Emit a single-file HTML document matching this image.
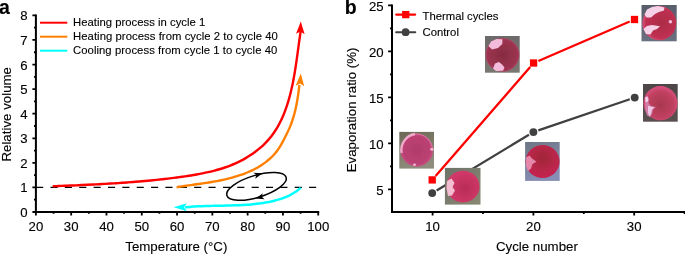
<!DOCTYPE html><html><head><meta charset="utf-8"><style>
html,body{margin:0;padding:0;background:#fff;width:685px;height:254px;overflow:hidden}
svg{display:block;will-change:transform}
text{font-family:"Liberation Sans", sans-serif;fill:#000;stroke:#000;stroke-width:0.12px}
</style></head><body>
<svg width="685" height="254" viewBox="0 0 685 254">
<defs>
<clipPath id="dishclip"><rect x="0" y="0" width="685" height="254"/></clipPath>
</defs>
<text x="-1.1" y="13.6" style="font-weight:bold;font-size:19.5px">a</text>
<g stroke="#000" stroke-width="2" fill="none">
<path d="M35.9,14.40 V212 H319.22"/>
</g>
<path d="M32.4,212.00H35.9 M32.4,187.43H35.9 M32.4,162.85H35.9 M32.4,138.28H35.9 M32.4,113.70H35.9 M32.4,89.12H35.9 M32.4,64.55H35.9 M32.4,39.97H35.9 M32.4,15.40H35.9 M34,199.71H35.9 M34,175.14H35.9 M34,150.56H35.9 M34,125.99H35.9 M34,101.41H35.9 M34,76.84H35.9 M34,52.26H35.9 M34,27.69H35.9 M35.90,212V215.4 M71.19,212V215.4 M106.48,212V215.4 M141.77,212V215.4 M177.06,212V215.4 M212.35,212V215.4 M247.64,212V215.4 M282.93,212V215.4 M318.22,212V215.4 M53.55,212V213.8 M88.84,212V213.8 M124.12,212V213.8 M159.41,212V213.8 M194.71,212V213.8 M230.00,212V213.8 M265.28,212V213.8 M300.57,212V213.8" stroke="#000" stroke-width="1.8" fill="none"/>
<text transform="translate(27.6,217.00) scale(1.10,1)" text-anchor="end" style="font-size:12px">0</text>
<text transform="translate(27.6,192.43) scale(1.10,1)" text-anchor="end" style="font-size:12px">1</text>
<text transform="translate(27.6,167.85) scale(1.10,1)" text-anchor="end" style="font-size:12px">2</text>
<text transform="translate(27.6,143.28) scale(1.10,1)" text-anchor="end" style="font-size:12px">3</text>
<text transform="translate(27.6,118.70) scale(1.10,1)" text-anchor="end" style="font-size:12px">4</text>
<text transform="translate(27.6,94.12) scale(1.10,1)" text-anchor="end" style="font-size:12px">5</text>
<text transform="translate(27.6,69.55) scale(1.10,1)" text-anchor="end" style="font-size:12px">6</text>
<text transform="translate(27.6,44.97) scale(1.10,1)" text-anchor="end" style="font-size:12px">7</text>
<text transform="translate(27.6,20.40) scale(1.10,1)" text-anchor="end" style="font-size:12px">8</text>
<text transform="translate(35.90,231) scale(1.10,1)" text-anchor="middle" style="font-size:12px">20</text>
<text transform="translate(71.19,231) scale(1.10,1)" text-anchor="middle" style="font-size:12px">30</text>
<text transform="translate(106.48,231) scale(1.10,1)" text-anchor="middle" style="font-size:12px">40</text>
<text transform="translate(141.77,231) scale(1.10,1)" text-anchor="middle" style="font-size:12px">50</text>
<text transform="translate(177.06,231) scale(1.10,1)" text-anchor="middle" style="font-size:12px">60</text>
<text transform="translate(212.35,231) scale(1.10,1)" text-anchor="middle" style="font-size:12px">70</text>
<text transform="translate(247.64,231) scale(1.10,1)" text-anchor="middle" style="font-size:12px">80</text>
<text transform="translate(282.93,231) scale(1.10,1)" text-anchor="middle" style="font-size:12px">90</text>
<text transform="translate(318.22,231) scale(1.10,1)" text-anchor="middle" style="font-size:12px">100</text>
<text x="176.3" y="250.6" text-anchor="middle" style="font-size:13.3px">Temperature (°C)</text>
<text transform="translate(11.3,114.3) rotate(-90)" x="0" y="0" text-anchor="middle" style="font-size:13.3px">Relative volume</text>
<path d="M36.13,187.3H316.4" stroke="#000" stroke-width="1.3" stroke-dasharray="7.1 7.267" fill="none"/>
<path d="M40,22.7H67.3" stroke="#ff0000" stroke-width="2" fill="none"/>
<path d="M40,36.7H67.3" stroke="#ff8000" stroke-width="2" fill="none"/>
<path d="M40,50.7H67.3" stroke="#00ffff" stroke-width="2" fill="none"/>
<text x="73" y="26.0" textLength="132.3" lengthAdjust="spacing" style="font-size:11.3px">Heating process in cycle 1</text>
<text x="73" y="40.0" textLength="204.9" lengthAdjust="spacing" style="font-size:11.3px">Heating process from cycle 2 to cycle 40</text>
<text x="73" y="54.0" textLength="204.3" lengthAdjust="spacing" style="font-size:11.3px">Cooling process from cycle 1 to cycle 40</text>
<path d="M52.71,186.27 C53.69,186.23 56.61,186.12 58.56,186.04 C60.50,185.96 62.45,185.89 64.39,185.81 C66.33,185.73 68.26,185.65 70.20,185.57 C72.13,185.49 74.07,185.41 76.00,185.33 C77.93,185.25 79.85,185.16 81.78,185.07 C83.71,184.99 85.63,184.90 87.55,184.81 C89.48,184.72 91.40,184.62 93.32,184.52 C95.24,184.43 97.15,184.33 99.07,184.23 C100.99,184.12 102.90,184.02 104.82,183.91 C106.73,183.80 108.64,183.69 110.56,183.57 C112.47,183.45 114.38,183.33 116.29,183.21 C118.20,183.08 120.11,182.96 122.02,182.82 C123.93,182.69 125.84,182.55 127.75,182.41 C129.66,182.27 131.57,182.12 133.48,181.97 C135.39,181.81 137.30,181.66 139.21,181.49 C141.12,181.33 143.03,181.16 144.94,180.99 C146.85,180.81 148.76,180.63 150.67,180.44 C152.58,180.26 154.49,180.06 156.41,179.86 C158.32,179.66 160.23,179.46 162.15,179.24 C164.07,179.03 165.98,178.81 167.90,178.58 C169.82,178.36 171.74,178.12 173.66,177.88 C175.58,177.64 177.51,177.39 179.43,177.13 C181.36,176.87 183.28,176.60 185.21,176.32 C187.13,176.04 189.06,175.75 190.98,175.44 C192.90,175.13 194.82,174.81 196.73,174.47 C198.65,174.13 200.56,173.77 202.46,173.38 C204.36,173.00 206.25,172.60 208.14,172.16 C210.03,171.73 211.90,171.27 213.77,170.79 C215.63,170.30 217.49,169.78 219.33,169.23 C221.17,168.68 223.00,168.10 224.81,167.49 C226.62,166.87 228.42,166.22 230.20,165.52 C231.98,164.83 233.74,164.10 235.49,163.32 C237.23,162.54 238.95,161.73 240.66,160.86 C242.36,160.00 244.04,159.09 245.70,158.13 C247.35,157.17 248.99,156.16 250.59,155.10 C252.19,154.04 253.77,152.93 255.31,151.77 C256.85,150.62 258.36,149.42 259.82,148.17 C261.28,146.92 262.71,145.62 264.09,144.28 C265.46,142.94 266.80,141.55 268.07,140.12 C269.35,138.69 270.58,137.21 271.74,135.69 C272.91,134.17 274.02,132.61 275.07,131.01 C276.12,129.41 277.12,127.77 278.06,126.10 C279.00,124.43 279.89,122.72 280.74,120.99 C281.58,119.26 282.38,117.50 283.13,115.72 C283.89,113.95 284.59,112.14 285.27,110.33 C285.94,108.52 286.57,106.69 287.17,104.86 C287.77,103.02 288.33,101.18 288.86,99.32 C289.40,97.47 289.90,95.61 290.37,93.74 C290.85,91.87 291.30,89.99 291.72,88.11 C292.14,86.22 292.54,84.33 292.92,82.44 C293.30,80.55 293.66,78.65 294.00,76.75 C294.34,74.84 294.66,72.94 294.98,71.03 C295.29,69.12 295.58,67.21 295.87,65.31 C296.16,63.40 296.43,61.48 296.70,59.57 C296.97,57.66 297.24,55.75 297.50,53.85 C297.76,51.94 298.01,50.03 298.27,48.13 C298.53,46.22 298.79,44.32 299.05,42.43 C299.31,40.53 299.58,38.64 299.85,36.75 C300.13,34.87 300.55,32.05 300.70,31.11" stroke="#ff0000" stroke-width="2.4" fill="none"/>
<path d="M300.80,21.40 L304.66,34.14 L300.45,31.39 L296.06,33.84 Z" fill="#ff0000"/>
<path d="M176.63,187.20 C177.29,187.10 179.25,186.78 180.57,186.58 C181.89,186.37 183.22,186.18 184.55,185.98 C185.88,185.79 187.22,185.60 188.56,185.41 C189.90,185.22 191.25,185.03 192.60,184.84 C193.95,184.65 195.30,184.47 196.66,184.28 C198.01,184.09 199.37,183.90 200.73,183.70 C202.08,183.50 203.45,183.30 204.80,183.10 C206.16,182.89 207.53,182.69 208.88,182.47 C210.24,182.25 211.60,182.03 212.96,181.79 C214.32,181.56 215.67,181.32 217.03,181.06 C218.38,180.81 219.73,180.54 221.07,180.27 C222.42,179.99 223.76,179.70 225.10,179.40 C226.44,179.09 227.77,178.78 229.10,178.44 C230.42,178.11 231.74,177.76 233.06,177.39 C234.37,177.02 235.68,176.64 236.98,176.23 C238.28,175.82 239.57,175.40 240.85,174.95 C242.14,174.51 243.41,174.04 244.67,173.55 C245.94,173.06 247.19,172.54 248.44,172.00 C249.68,171.46 250.91,170.90 252.13,170.31 C253.35,169.72 254.56,169.10 255.76,168.46 C256.95,167.81 258.14,167.14 259.30,166.43 C260.47,165.73 261.62,164.99 262.75,164.23 C263.87,163.47 264.98,162.67 266.06,161.84 C267.14,161.02 268.20,160.16 269.22,159.27 C270.24,158.38 271.24,157.45 272.20,156.49 C273.16,155.54 274.09,154.55 274.97,153.52 C275.86,152.49 276.71,151.43 277.51,150.33 C278.31,149.23 279.07,148.09 279.79,146.93 C280.52,145.76 281.19,144.56 281.85,143.35 C282.52,142.15 283.16,140.92 283.80,139.70 C284.44,138.48 285.07,137.26 285.69,136.03 C286.31,134.81 286.92,133.59 287.51,132.35 C288.10,131.12 288.67,129.89 289.22,128.64 C289.76,127.39 290.27,126.13 290.76,124.86 C291.25,123.60 291.72,122.32 292.16,121.03 C292.59,119.75 293.01,118.45 293.40,117.15 C293.79,115.85 294.16,114.54 294.50,113.23 C294.85,111.91 295.17,110.59 295.48,109.26 C295.79,107.93 296.08,106.60 296.35,105.26 C296.62,103.93 296.87,102.58 297.11,101.24 C297.35,99.89 297.57,98.54 297.78,97.19 C297.99,95.84 298.19,94.49 298.37,93.13 C298.56,91.78 298.73,90.42 298.90,89.06 C299.06,87.70 299.29,85.67 299.36,84.99" stroke="#ff8000" stroke-width="2.4" fill="none"/>
<path d="M300.80,73.40 L304.21,86.27 L300.10,83.38 L295.63,85.67 Z" fill="#ff8000"/>
<path d="M300.73,187.81 C300.19,188.24 298.57,189.61 297.45,190.44 C296.33,191.26 295.19,192.03 294.03,192.76 C292.87,193.49 291.68,194.16 290.47,194.79 C289.27,195.43 288.04,196.02 286.80,196.57 C285.56,197.12 284.30,197.62 283.03,198.10 C281.76,198.57 280.47,199.01 279.18,199.41 C277.88,199.82 276.57,200.19 275.25,200.53 C273.93,200.88 272.60,201.19 271.26,201.49 C269.92,201.78 268.58,202.04 267.23,202.29 C265.88,202.54 264.53,202.76 263.17,202.97 C261.81,203.18 260.45,203.37 259.09,203.55 C257.73,203.72 256.37,203.88 255.00,204.03 C253.64,204.17 252.27,204.31 250.90,204.43 C249.53,204.55 248.16,204.65 246.78,204.75 C245.41,204.85 244.03,204.93 242.66,205.01 C241.28,205.09 239.90,205.15 238.53,205.21 C237.15,205.27 235.77,205.33 234.39,205.37 C233.01,205.42 231.63,205.46 230.25,205.50 C228.87,205.53 227.49,205.56 226.11,205.59 C224.73,205.62 223.35,205.65 221.97,205.68 C220.59,205.70 219.21,205.72 217.84,205.75 C216.46,205.78 215.08,205.80 213.70,205.83 C212.33,205.86 210.95,205.89 209.58,205.92 C208.21,205.95 206.83,205.99 205.46,206.03 C204.09,206.08 202.72,206.12 201.36,206.18 C199.99,206.24 198.63,206.30 197.27,206.37 C195.90,206.44 194.55,206.52 193.19,206.61 C191.83,206.70 190.48,206.80 189.13,206.91 C187.78,207.02 185.76,207.22 185.09,207.28" stroke="#00ffff" stroke-width="2.5" fill="none"/>
<path d="M173.70,207.30 L186.90,203.30 L184.00,207.30 L186.90,211.30 Z" fill="#00ffff"/>
<ellipse cx="256.50" cy="186.40" rx="31.00" ry="11.00" transform="rotate(-17.00 256.50 186.40)" stroke="#000" stroke-width="1.5" fill="none"/>
<path d="M262.60,173.20 L255.17,178.68 L256.38,175.08 L253.38,172.75 Z" fill="#000"/>
<path d="M255.90,198.60 L262.73,193.22 L261.73,196.82 L264.57,199.24 Z" fill="#000"/>
<text x="344.8" y="13.6" style="font-weight:bold;font-size:19.5px">b</text>
<path d="M392,4.40 V212 H685" stroke="#000" stroke-width="2" fill="none"/>
<path d="M388.1,189.40H392 M388.1,143.40H392 M388.1,97.40H392 M388.1,51.40H392 M388.1,5.40H392 M390,166.40H392 M390,120.40H392 M390,74.40H392 M390,28.40H392 M432.60,212V215.4 M533.40,212V215.4 M634.20,212V215.4 M483.00,212V214 M583.80,212V214 M684.60,212V214" stroke="#000" stroke-width="1.8" fill="none"/>
<text transform="translate(383.7,194.50) scale(1.10,1)" text-anchor="end" style="font-size:12px">5</text>
<text transform="translate(383.7,148.50) scale(1.10,1)" text-anchor="end" style="font-size:12px">10</text>
<text transform="translate(383.7,102.50) scale(1.10,1)" text-anchor="end" style="font-size:12px">15</text>
<text transform="translate(383.7,56.50) scale(1.10,1)" text-anchor="end" style="font-size:12px">20</text>
<text transform="translate(383.7,10.50) scale(1.10,1)" text-anchor="end" style="font-size:12px">25</text>
<text transform="translate(432.60,231) scale(1.10,1)" text-anchor="middle" style="font-size:12px">10</text>
<text transform="translate(533.40,231) scale(1.10,1)" text-anchor="middle" style="font-size:12px">20</text>
<text transform="translate(634.20,231) scale(1.10,1)" text-anchor="middle" style="font-size:12px">30</text>
<text x="536.9" y="250.6" text-anchor="middle" style="font-size:13.3px">Cycle number</text>
<text transform="translate(356.4,109.9) rotate(-90)" x="0" y="0" text-anchor="middle" style="font-size:13.3px">Evaporation ratio (%)</text>
<path d="M396.2,14.6H415.2" stroke="#ff0000" stroke-width="2.1" stroke-linecap="round" fill="none"/>
<rect x="402.1" y="10.95" width="7.3" height="7.3" fill="#ff0000"/>
<path d="M396.2,32.2H415.2" stroke="#404040" stroke-width="2.1" stroke-linecap="round" fill="none"/>
<circle cx="405.6" cy="32.2" r="3.9" fill="#404040"/>
<text x="422.5" y="20" style="font-size:11.3px">Thermal cycles</text>
<text x="422.5" y="36.3" style="font-size:11.3px">Control</text>
<path d="M435.61,175.97 L530.19,66.93 M538.38,60.94 L629.72,21.56 " stroke="#ff0000" stroke-width="2.3" fill="none"/>
<path d="M436.65,190.42 L528.95,134.78 M538.32,130.42 L629.78,99.28 " stroke="#404040" stroke-width="2.3" fill="none"/>
<defs><linearGradient id="bgA" x1="0" y1="0" x2="0.3" y2="1"><stop offset="0" stop-color="#6c6854"/><stop offset="1" stop-color="#8e8c7c"/></linearGradient><linearGradient id="bgB" x1="0" y1="0" x2="1" y2="1"><stop offset="0" stop-color="#6c726a"/><stop offset="1" stop-color="#8a8872"/></linearGradient><linearGradient id="bgC" x1="0" y1="0" x2="0" y2="1"><stop offset="0" stop-color="#6c6a6a"/><stop offset="1" stop-color="#7a7870"/></linearGradient><linearGradient id="bgD" x1="0" y1="0" x2="0.4" y2="1"><stop offset="0" stop-color="#6e7684"/><stop offset="1" stop-color="#868eb6"/></linearGradient><linearGradient id="bgE" x1="0" y1="0" x2="0" y2="1"><stop offset="0" stop-color="#585e6a"/><stop offset="1" stop-color="#6a7080"/></linearGradient><linearGradient id="bgF" x1="0" y1="0" x2="0" y2="1"><stop offset="0" stop-color="#4e4646"/><stop offset="1" stop-color="#5a5050"/></linearGradient><radialGradient id="dA" cx="0.5" cy="0.5" r="0.5"><stop offset="0" stop-color="#b03c68"/><stop offset="0.85" stop-color="#bc4274"/><stop offset="1" stop-color="#c85284"/></radialGradient><radialGradient id="dB" cx="0.55" cy="0.55" r="0.5"><stop offset="0" stop-color="#b82c58"/><stop offset="1" stop-color="#d03868"/></radialGradient><radialGradient id="dC" cx="0.5" cy="0.5" r="0.5"><stop offset="0" stop-color="#862c40"/><stop offset="0.9" stop-color="#9c3450"/><stop offset="1" stop-color="#b04868"/></radialGradient><radialGradient id="dD" cx="0.5" cy="0.4" r="0.55"><stop offset="0" stop-color="#a02838"/><stop offset="1" stop-color="#c42450"/></radialGradient><radialGradient id="dE" cx="0.55" cy="0.5" r="0.5"><stop offset="0" stop-color="#ac2c48"/><stop offset="0.9" stop-color="#c03052"/><stop offset="1" stop-color="#d04870"/></radialGradient><radialGradient id="dF" cx="0.5" cy="0.55" r="0.55"><stop offset="0" stop-color="#a8384e"/><stop offset="0.7" stop-color="#c04060"/><stop offset="1" stop-color="#dc5080"/></radialGradient><filter id="soft" x="-5%" y="-5%" width="110%" height="110%"><feGaussianBlur stdDeviation="0.5"/></filter></defs>
<g filter="url(#soft)">
<rect x="399.3" y="131.9" width="34.7" height="36.7" fill="url(#bgA)"/>
<ellipse cx="416.8" cy="150.2" rx="16.2" ry="16.5" fill="url(#dA)"/>
<path d="M401.6,153 A16.0,16.3 0 0 1 415,134.0" stroke="#f0aacb" stroke-width="2.4" fill="none"/>
<path d="M415,134.0 A15.8,16.2 0 0 1 432.4,151" stroke="#d87aa4" stroke-width="1" fill="none"/>
<ellipse cx="431.8" cy="149.3" rx="1.8" ry="1.4" fill="#f2b4cf"/>
<ellipse cx="414.5" cy="164.8" rx="1.5" ry="1.3" fill="#f2b4cf"/>
</g>
<g filter="url(#soft)">
<rect x="444.9" y="167.9" width="35.6" height="36.7" fill="url(#bgB)"/>
<ellipse cx="463" cy="186.6" rx="16.5" ry="15.9" fill="url(#dB)"/>
<polygon points="447.0,181.0 451.5,178.6 454.5,183.0 452.5,187.0 455.0,190.5 452.0,195.5 448.0,196.0 446.5,188.0" fill="#f4bed2" opacity="1.00"/>
</g>
<g filter="url(#soft)">
<rect x="485" y="36" width="34.7" height="36.7" fill="url(#bgC)"/>
<ellipse cx="502.5" cy="54.9" rx="17" ry="16.9" fill="url(#dC)"/>
<polygon points="488.5,46.0 491.0,41.5 496.5,39.0 502.5,39.3 502.3,44.0 498.0,48.0 492.0,49.5" fill="#f4bcdc" opacity="1.00"/>
<polygon points="493.0,68.5 495.0,63.5 499.0,62.0 502.0,64.5 504.5,67.5 503.0,70.8 496.0,71.0" fill="#f4bcdc" opacity="1.00"/>
</g>
<g filter="url(#soft)">
<rect x="525.1" y="142" width="34.6" height="38.9" fill="url(#bgD)"/>
<ellipse cx="542.6" cy="161.5" rx="17" ry="16.5" fill="url(#dD)"/>
<polygon points="526.0,157.5 529.5,155.5 532.0,158.5 536.5,161.8 532.5,164.0 531.0,168.5 528.0,171.0 526.0,166.0" fill="#ea92b4" opacity="0.90"/>
</g>
<g filter="url(#soft)">
<rect x="641.5" y="5" width="35.2" height="36.3" fill="url(#bgE)"/>
<ellipse cx="659.3" cy="23.2" rx="17" ry="17.1" fill="url(#dE)"/>
<polygon points="644.5,14.5 647.0,9.5 652.0,7.0 658.0,6.0 664.5,7.5 664.0,10.5 659.0,12.0 655.0,14.0 651.0,17.5 646.5,17.5" fill="#f6d2e8" opacity="1.00"/>
<polygon points="643.5,29.0 647.0,26.0 652.0,25.0 660.0,26.3 657.0,29.0 653.0,30.5 650.5,34.5 646.0,34.0" fill="#f6d2e8" opacity="1.00"/>
<circle cx="670.4" cy="21.8" r="1.8" fill="#f2bad8"/>
</g>
<g filter="url(#soft)">
<rect x="643" y="84" width="34.7" height="37.7" fill="url(#bgF)"/>
<ellipse cx="660.5" cy="103.2" rx="17" ry="17.1" fill="url(#dF)"/>
<polygon points="645.0,97.0 647.5,96.0 649.0,99.0 648.5,103.0 651.0,106.0 656.0,107.0 653.0,109.5 652.0,114.0 650.0,117.0 647.0,115.5 645.3,110.0" fill="#d88ab8" opacity="0.80"/>
<polygon points="645.2,97.5 647.3,96.5 648.3,99.5 647.5,102.0 645.5,102.0" fill="#f4dcf0" opacity="0.90"/>
<polygon points="648.0,106.0 651.0,106.5 654.5,107.5 652.0,109.5 651.0,114.0 649.5,116.5 648.0,113.0" fill="#f0d0ec" opacity="0.90"/>
</g>
<rect x="428.55" y="176.25" width="7.3" height="7.3" fill="#ff0000"/>
<rect x="529.95" y="59.35" width="7.3" height="7.3" fill="#ff0000"/>
<rect x="630.85" y="15.85" width="7.3" height="7.3" fill="#ff0000"/>
<circle cx="432.20" cy="193.10" r="3.95" fill="#404040"/>
<circle cx="533.40" cy="132.10" r="3.95" fill="#404040"/>
<circle cx="634.70" cy="97.60" r="3.95" fill="#404040"/>
</svg></body></html>
